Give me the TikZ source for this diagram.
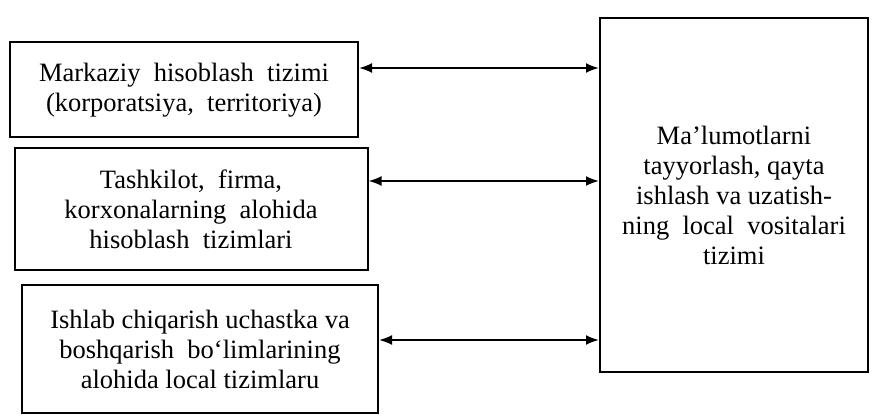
\documentclass[tikz,border=0pt]{standalone}
\usepackage{fontspec}
\setmainfont{Liberation Serif}
\usetikzlibrary{positioning}
\usetikzlibrary{arrows.meta}
\usetikzlibrary{calc}

\begin{document}
\begin{tikzpicture}[x=1pt,y=1pt,
	box/.style={draw, line width=2pt, align=center, inner sep=0pt,
		font=\fontsize{26.5}{30}\selectfont},
	link/.style={line width=2pt, {Latex[length=13pt,width=10pt]}-{Latex[length=13pt,width=10pt]}}]
	\useasboundingbox (0,0) rectangle (880,417);
	\node[box, minimum width=348pt, minimum height=95pt] (mhs) at (184,327) {Markaziy\ \ hisoblash\ \ tizimi\\(korporatsiya,\ \ territoriya)};
	\node[box, minimum width=353pt, minimum height=122pt] (tfk) at (191,208) {Tashkilot,\ \ firma,\\korxonalarning\ \ alohida\\hisoblash\ \ tizimlari};
	\node[box, minimum width=356pt, minimum height=128pt] (ich) at (200,68) {Ishlab chiqarish uchastka va\\boshqarish\ \ bo‘limlarining\\alohida local tizimlaru};
	\node[box, minimum width=268pt, minimum height=354pt] (lvt) at (734,222) {Ma’lumotlarni\\tayyorlash, qayta\\ishlash va uzatish-\\ning\ \ local\ \ vositalari\\tizimi};
	% ikki tomonlama aloqa
	\coordinate (a1) at ([yshift=22pt]mhs.east);
	\coordinate (a2) at ([yshift=28pt]tfk.east);
	\coordinate (a3) at ([yshift=9pt]ich.east);
	\draw[link] (a1) -- (a1 -| lvt.west);
	\draw[link] (a2) -- (a2 -| lvt.west);
	\draw[link] (a3) -- (a3 -| lvt.west);
\end{tikzpicture}
\end{document}
